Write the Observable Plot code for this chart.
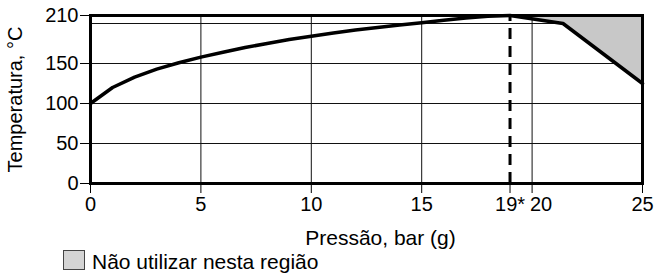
<!DOCTYPE html>
<html>
<head>
<meta charset="utf-8">
<script src="https://cdn.jsdelivr.net/npm/d3@7"></script>
<script src="https://cdn.jsdelivr.net/npm/@observablehq/plot@0.6"></script>
<style>
  body { margin:0; background:#fff; font-family:"Liberation Sans", Arial, sans-serif; }
  #wrap { position:relative; width:656px; height:274px; overflow:hidden; }
  #wrap svg { position:absolute; left:0; top:0; }
  #legend .sw { position:absolute; left:63px; top:250px; width:22px; height:20px; background:#d4d4d4; border:1px solid #444; box-sizing:border-box; }
  #legend .lt { position:absolute; left:92px; top:251px; font-size:21px; line-height:21px; color:#000; white-space:nowrap; }
</style>
</head>
<body>
<div id="wrap"></div>
<script>
const pressure = [0,1,2,3,4,5,6,7,8,9,10,11,12,13,14,15,16,17,18,19,21.4,25];
const temperature = [100,120,133,143,151,158,164,170,175,180,184,188,192,195,198,201,204,207,209,210,200,125];
const yTicks = [0,50,100,150,210];
const yGrid = [50,100,150,200];
const xTicks = [0,5,10,15,19,20,25];
const xTickLabels = ["0","5","10","15","19*","20","25"];
const xGrid = [5,10,15,20];
const limitPressure = 19;
const xLabel = "Pressão, bar (g)";
const yLabel = "Temperatura, °C";
const legendLabel = "Não utilizar nesta região";

const data = pressure.map((p,i) => ({p, t: temperature[i]}));
const shade = data.filter(d => d.p >= limitPressure);
const xFmt = d => xTickLabels[xTicks.indexOf(d)];

const chart = Plot.plot({
  width: 656, height: 274,
  marginLeft: 90, marginRight: 14, marginTop: 15, marginBottom: 91,
  style: { fontFamily: "Liberation Sans, Arial, sans-serif", fontSize: "20px", color: "#000", background: "#fff", overflow: "visible" },
  x: { domain: [0,25] },
  y: { domain: [0,210] },
  marks: [
    Plot.gridX(xGrid, { stroke: "#111", strokeOpacity: 1, strokeWidth: 1 }),
    Plot.gridY(yGrid, { stroke: "#111", strokeOpacity: 1, strokeWidth: 1 }),
    Plot.areaY(shade, { x: "p", y1: "t", y2: 210, fill: "#c8c8c8" }),
    Plot.ruleX([limitPressure], { y1: 0, y2: 210, stroke: "#000", strokeWidth: 3, strokeDasharray: "11,7" }),
    Plot.line(data, { x: "p", y: "t", stroke: "#000", strokeWidth: 3.5 }),
    Plot.frame({ stroke: "#000", strokeWidth: 3 }),
    Plot.axisY(yTicks, { tickSize: 10, tickPadding: 2, label: null, fontSize: 20 }),
    Plot.axisX(xTicks, { tickSize: 10, tickPadding: 3, label: null, fontSize: 20, tickFormat: d => d === 20 ? "" : xFmt(d) }),
    Plot.axisX([20], { tickSize: 0, tickPadding: 13, label: null, fontSize: 20, dx: 9, tickFormat: xFmt }),
    Plot.text([xLabel], { frameAnchor: "bottom", textAnchor: "middle", lineAnchor: "middle", dx: 14, dy: 55, fontSize: 21 }),
    Plot.text([yLabel], { frameAnchor: "left", textAnchor: "middle", lineAnchor: "middle", rotate: -90, dx: -75, fontSize: 20 })
  ]
});
const wrap = document.getElementById("wrap");
wrap.appendChild(chart);
const leg = document.createElement("div");
leg.id = "legend";
leg.innerHTML = '<div class="sw"></div><span class="lt"></span>';
leg.querySelector(".lt").textContent = legendLabel;
wrap.appendChild(leg);
</script>
</body>
</html>
